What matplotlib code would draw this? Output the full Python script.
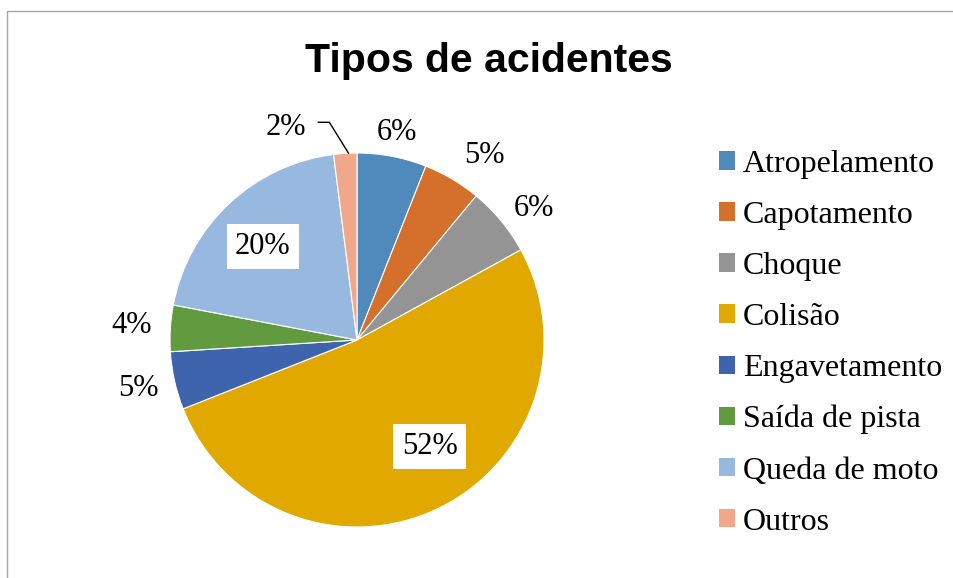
import numpy as np
import matplotlib.pyplot as plt
from matplotlib.patches import Rectangle

categories = ["Atropelamento", "Capotamento", "Choque", "Colisão",
              "Engavetamento", "Saída de pista", "Queda de moto", "Outros"]
values = [6, 5, 6, 52, 5, 4, 20, 2]
colors = ["#5089BC", "#D4702C", "#949494", "#E1A900",
          "#3D64AD", "#629A3F", "#97B9E0", "#F1A78A"]

# label placement: radius factor and angle tweak (deg) per slice
label_r = [1.13, 1.20, 1.18, 0.69, 1.20, 1.21, 0.71, 1.20]
label_dang = [0, -4, -3, 9, 0, 0, 2, 15]
boxed = [False, False, False, True, False, False, True, False]

W, H = 954, 578
fig = plt.figure(figsize=(W / 100, H / 100), dpi=100)
fig.patches.append(Rectangle((7.5 / W, -0.05), 1.1, 1 - 10.5 / H + 0.05, transform=fig.transFigure,
                             fill=False, edgecolor="#a6a6a6", linewidth=1.0))

cx, cy, R = 357, 340, 187
ax = fig.add_axes([(cx - R) / W, (H - cy - R) / H, 2 * R / W, 2 * R / H])
wedges, _ = ax.pie(values, colors=colors, startangle=90, counterclock=False, radius=1.0,
                   wedgeprops=dict(edgecolor="white", linewidth=0.8))
ax.set_xlim(-1, 1)
ax.set_ylim(-1, 1)
ax.set_aspect("equal")
ax.axis("off")

serif = "Liberation Serif"
for i, w in enumerate(wedges):
    ang = np.deg2rad((w.theta1 + w.theta2) / 2 + label_dang[i])
    x, y = label_r[i] * np.cos(ang), label_r[i] * np.sin(ang)
    kw = {}
    if boxed[i]:
        kw["bbox"] = dict(facecolor="white", edgecolor="none", pad=6)
    ax.text(x, y, f"{values[i]}%", ha="center", va="center", fontsize=22,
            family=serif, clip_on=False, **kw)
    if categories[i] == "Outros":
        # leader line from label to slice
        mid = np.deg2rad((w.theta1 + w.theta2) / 2 - 1)
        ex, ey = np.cos(mid), np.sin(mid)
        ax.plot([x + 0.176, x + 0.235, ex], [y + 0.027, y + 0.027, ey], color="black",
                linewidth=1.0, clip_on=False)

fig.text(489 / W, 1 - 61 / H, "Tipos de acidentes", ha="center", va="center",
         fontsize=29.5, fontweight="bold", family="Liberation Sans")

handles = [Rectangle((0, 0), 1, 1, facecolor=c, edgecolor="none") for c in colors]
leg = fig.legend(handles, categories, loc="upper left", bbox_to_anchor=(706 / W, 1 - 137 / H),
                 frameon=False, prop={"family": serif, "size": 23}, handlelength=0.5,
                 handleheight=0.5, handletextpad=0.25, labelspacing=0.69, borderaxespad=0)

fig.savefig("out.png", dpi=100)
